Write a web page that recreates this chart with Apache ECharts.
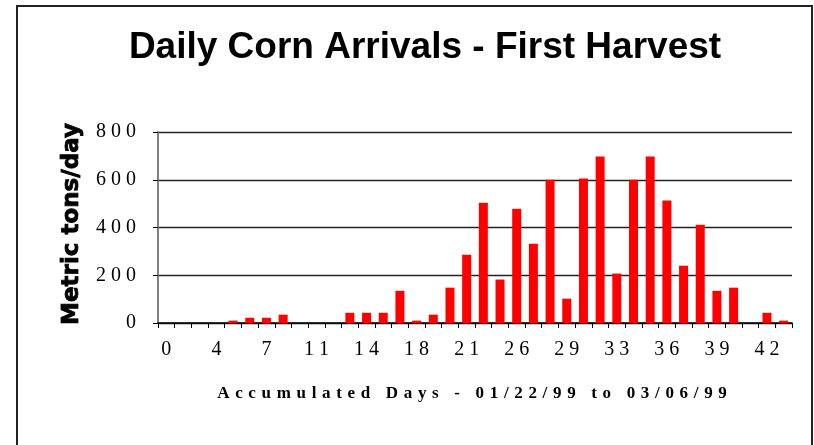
<!DOCTYPE html>
<html>
<head>
    <meta charset="utf-8">
    <title>Daily Corn Arrivals - First Harvest</title>
    <script src="https://cdn.jsdelivr.net/npm/echarts@6/dist/echarts.min.js"></script>
    <style>
        html, body { margin: 0; padding: 0; background: #fff; }
        #main { width: 814px; height: 445px; }
    </style>
</head>
<body>
    <div id="main"></div>
    <script type="text/javascript">
        // accumulated day of each arrival record (some days have no record)
        var days = ['0', '1', '2', '4', '5', '6', '7', '8', '9', '11',
                    '12', '13', '14', '15', '16', '18', '19', '20', '21', '22',
                    '23', '26', '27', '28', '29', '30', '31', '33', '34', '35',
                    '36', '37', '38', '39', '40', '41', '42', '43'];
        // metric tons per day
        var tons = [0, 0, 0, 0, 10, 22, 22, 35, 0, 0,
                    0, 43, 43, 43, 135, 10, 35, 148, 286, 504,
                    182, 479, 332, 600, 102, 605, 697, 207, 600, 697,
                    513, 240, 412, 135, 148, 0, 43, 10];
        var yTicks = [0, 200, 400, 600, 800];

        var titleText = 'Daily Corn Arrivals - First Harvest';
        var xName = 'Accumulated Days - 01/22/99 to 03/06/99';
        var yName = 'Metric tons/day';

        // the original prints its numbers and the axis title letter-spaced
        function spaced(s, gap) {
            return String(s).split('').join(gap);
        }

        var myChart = echarts.init(document.getElementById('main'));

        myChart.setOption({
            animation: false,
            title: {
                text: titleText,
                left: 420,
                top: 24,
                textAlign: 'center',
                textStyle: {
                    fontFamily: 'Liberation Sans',
                    fontWeight: 'bold',
                    fontSize: 37,
                    color: '#000'
                }
            },
            grid: {
                left: 158,
                right: 22,
                top: 132,
                bottom: 122
            },
            xAxis: {
                type: 'category',
                data: days,
                boundaryGap: true,
                axisLine: { lineStyle: { color: '#000', width: 1.5 } },
                axisTick: { show: true, interval: 0, length: 5, lineStyle: { color: '#000' } },
                axisLabel: {
                    interval: 2,
                    margin: 17,
                    fontFamily: 'Liberation Serif',
                    fontSize: 20,
                    color: '#000',
                    formatter: function (v) { return spaced(v, '\u2005'); }
                },
                splitLine: { show: false }
            },
            yAxis: {
                type: 'value',
                min: yTicks[0],
                max: yTicks[yTicks.length - 1],
                interval: 200,
                axisLine: { show: true, lineStyle: { color: '#808080', width: 2 } },
                axisTick: { show: true, length: 5, lineStyle: { color: '#000' } },
                axisLabel: {
                    margin: 22,
                    fontFamily: 'Liberation Serif',
                    fontSize: 20,
                    color: '#000',
                    formatter: function (v) { return spaced(v, '\u2005'); }
                },
                splitLine: { show: true, lineStyle: { color: '#222', width: 1.4 } }
            },
            series: [{
                name: yName,
                type: 'bar',
                data: tons,
                barWidth: 9,
                itemStyle: { color: '#ff0000' }
            }],
            graphic: [
                {
                    type: 'rect',
                    shape: { x: 17, y: 6, width: 795, height: 520 },
                    style: { fill: 'none', stroke: '#222', lineWidth: 2 },
                    silent: true
                },
                {
                    type: 'text',
                    x: 72,
                    y: 224,
                    rotation: Math.PI / 2,
                    style: {
                        text: yName,
                        fontFamily: 'DejaVu Sans',
                        fontWeight: 'bold',
                        fontSize: 23,
                        fill: '#000',
                        stroke: '#000',
                        lineWidth: 0.8,
                        align: 'center',
                        verticalAlign: 'middle'
                    }
                },
                {
                    type: 'text',
                    x: 472,
                    y: 394,
                    style: {
                        text: spaced(xName, '\u2004'),
                        fontFamily: 'Liberation Serif',
                        fontWeight: 'bold',
                        fontSize: 17,
                        fill: '#000',
                        align: 'center',
                        verticalAlign: 'middle'
                    }
                }
            ]
        });
    </script>
</body>
</html>
